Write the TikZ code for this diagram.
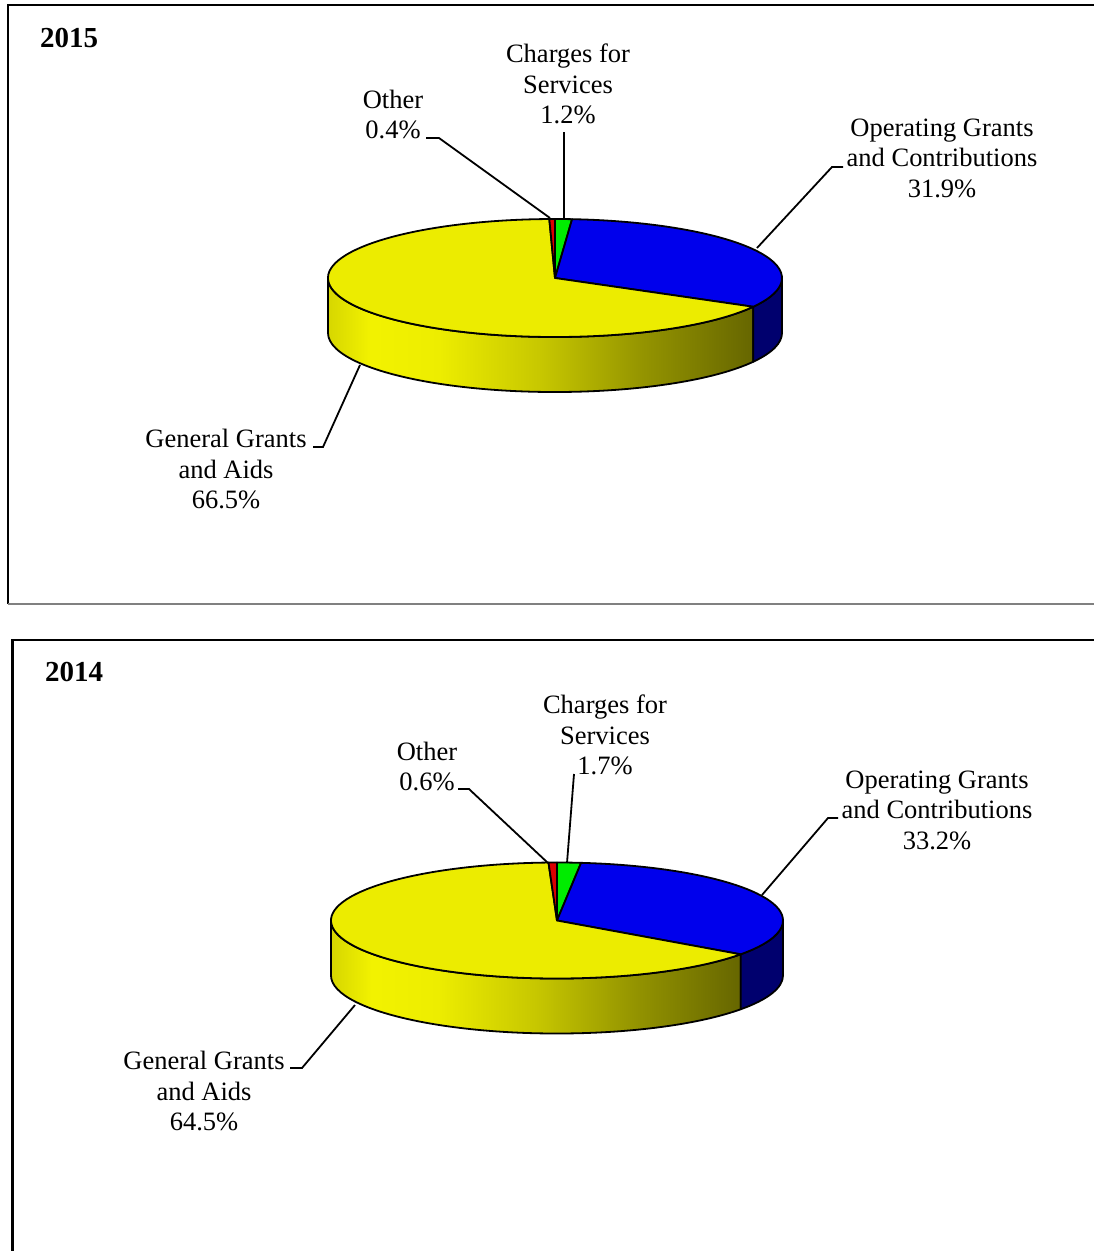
\documentclass[tikz,border=0pt]{standalone}
\usepackage{fontspec}
\setmainfont{Liberation Serif}
\usetikzlibrary{calc}
\pgfdeclarehorizontalshading{yside}{100bp}{rgb(0bp)=(0.84,0.84,0); rgb(25bp)=(0.84,0.84,0); rgb(30bp)=(0.95,0.95,0); rgb(38bp)=(0.93,0.93,0); rgb(50bp)=(0.78,0.78,0); rgb(62bp)=(0.58,0.58,0); rgb(75bp)=(0.40,0.40,0); rgb(100bp)=(0.40,0.40,0)}
\definecolor{ytop}{RGB}{236,236,0}
\definecolor{btop}{RGB}{0,0,236}
\definecolor{gtop}{RGB}{0,236,0}
\definecolor{rtop}{RGB}{220,0,0}
\definecolor{bside}{RGB}{0,0,110}
\tikzset{
  lbl/.style={align=center,inner sep=0pt,font=\fontsize{26.5}{30.5}\selectfont},
  yearlbl/.style={anchor=west,inner sep=0pt,font=\bfseries\fontsize{29}{32}\selectfont},
  edge/.style={draw=black,line width=1.8pt,line join=round},
  leader/.style={draw=black,line width=1.8pt},
  frame/.style={draw=black,line width=2.6pt},
}
\newcommand\pieslice[6]{\filldraw[edge,fill=#6] (#1) -- ($(#1)+(#4:#2 and #3)$) arc[start angle=#4, end angle=#5, x radius=#2, y radius=#3] -- cycle;}
\newcommand\pieside[7]{\filldraw[edge,#7] ($(#1)+(#5:#2 and #3)$) arc[start angle=#5, end angle=#6, x radius=#2, y radius=#3] -- ++(0,-#4) arc[start angle=#6, end angle=#5, x radius=#2, y radius=#3] -- cycle;}
\begin{document}
\begin{tikzpicture}[x=1pt,y=1pt]
\useasboundingbox (0,0) rectangle (1094,-1251);
\clip (0,0) rectangle (1094,-1251);
\fill[white] (0,0) rectangle (1094,-1251);
% frames
\draw[frame] (1100,-5) -- (8,-5) -- (8,-604);
\draw[gray,line width=1.4pt] (8,-604) -- (1100,-604);
\draw[frame] (1100,-640) -- (12.5,-640) -- (12.5,-1260);
% ---------------- 2015 ----------------
\node[yearlbl] (y15) at (40,-38) {2015};
\coordinate (c15) at (555,-278);
\pieside{c15}{227}{59}{55}{180}{330.84}{shading=yside}
\pieside{c15}{227}{59}{55}{330.84}{360}{fill=bside}
\pieslice{c15}{227}{59}{90}{85.68}{gtop}
\pieslice{c15}{227}{59}{85.68}{-29.16}{btop}
\pieslice{c15}{227}{59}{-29.16}{-268.56}{ytop}
\pieslice{c15}{227}{59}{91.44}{90}{rtop}
\node[lbl] (oth15) at (393,-114.5) {Other\\0.4\%};
\node[lbl] (chg15) at (568,-84) {Charges for\\Services\\1.2\%};
\node[lbl] (opg15) at (942,-158) {Operating Grants\\and Contributions\\31.9\%};
\node[lbl] (gen15) at (226,-469) {General Grants\\and Aids\\66.5\%};
\coordinate (oth15a) at (426,-138); \coordinate (oth15b) at (439,-138); \coordinate (oth15c) at (550,-218);
\coordinate (chg15a) at (564,-132); \coordinate (chg15c) at (564,-219);
\coordinate (opg15a) at (843,-167); \coordinate (opg15b) at (832,-167); \coordinate (opg15c) at (757,-248);
\coordinate (gen15a) at (313,-447); \coordinate (gen15b) at (323,-447); \coordinate (gen15c) at (360,-365);
\draw[leader] (oth15a) -- (oth15b) -- (oth15c);
\draw[leader] (chg15a) -- (chg15c);
\draw[leader] (opg15a) -- (opg15b) -- (opg15c);
\draw[leader] (gen15a) -- (gen15b) -- (gen15c);
% ---------------- 2014 ----------------
\node[yearlbl] (y14) at (45,-672) {2014};
\coordinate (c14) at (557,-920.5);
\pieside{c14}{226}{58}{55}{180}{324.36}{shading=yside}
\pieside{c14}{226}{58}{55}{324.36}{360}{fill=bside}
\pieslice{c14}{226}{58}{90}{83.88}{gtop}
\pieslice{c14}{226}{58}{83.88}{-35.64}{btop}
\pieslice{c14}{226}{58}{-35.64}{-267.84}{ytop}
\pieslice{c14}{226}{58}{92.16}{90}{rtop}
\node[lbl] (oth14) at (427,-766.5) {Other\\0.6\%};
\node[lbl] (chg14) at (605,-735) {Charges for\\Services\\1.7\%};
\node[lbl] (opg14) at (937,-810) {Operating Grants\\and Contributions\\33.2\%};
\node[lbl] (gen14) at (204,-1091) {General Grants\\and Aids\\64.5\%};
\coordinate (oth14a) at (458,-789); \coordinate (oth14b) at (469,-789); \coordinate (oth14c) at (548,-863);
\coordinate (chg14a) at (574,-774); \coordinate (chg14c) at (567,-863);
\coordinate (opg14a) at (838,-818); \coordinate (opg14b) at (828,-818); \coordinate (opg14c) at (762,-895);
\coordinate (gen14a) at (290,-1068); \coordinate (gen14b) at (302,-1068); \coordinate (gen14c) at (355,-1005);
\draw[leader] (oth14a) -- (oth14b) -- (oth14c);
\draw[leader] (chg14a) -- (chg14c);
\draw[leader] (opg14a) -- (opg14b) -- (opg14c);
\draw[leader] (gen14a) -- (gen14b) -- (gen14c);
\end{tikzpicture}
\end{document}
